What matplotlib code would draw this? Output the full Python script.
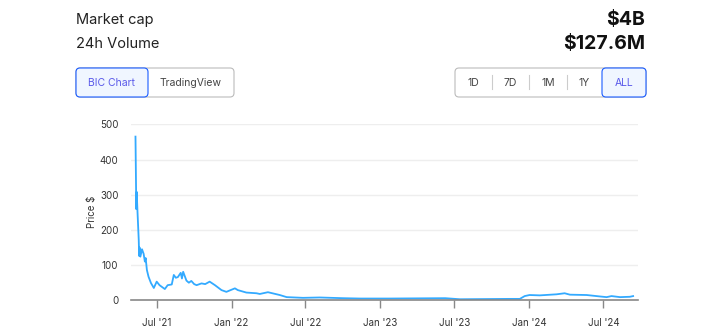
import matplotlib.pyplot as plt
import matplotlib.dates as mdates
from matplotlib.patches import FancyBboxPatch
import pandas as pd

plt.rcParams['font.family'] = ['Inter', 'DejaVu Sans']

# price history
dates = [
    "2021-05-10", "2021-05-12", "2021-05-13", "2021-05-15", "2021-05-18",
    "2021-05-19", "2021-05-20", "2021-05-22", "2021-05-26", "2021-05-30",
    "2021-06-02", "2021-06-04", "2021-06-07", "2021-06-11", "2021-06-17",
    "2021-06-24", "2021-07-01", "2021-07-08", "2021-07-21", "2021-07-28",
    "2021-08-07", "2021-08-12", "2021-08-17", "2021-08-22", "2021-08-29",
    "2021-09-01", "2021-09-04", "2021-09-12", "2021-09-18", "2021-09-24",
    "2021-10-01", "2021-10-07", "2021-10-19", "2021-10-28", "2021-11-08",
    "2021-11-21", "2021-12-07", "2021-12-19", "2022-01-09", "2022-01-16",
    "2022-02-06", "2022-03-03", "2022-03-11", "2022-03-31", "2022-04-29",
    "2022-05-16", "2022-06-25", "2022-08-05", "2022-10-01", "2022-11-12",
    "2023-01-24", "2023-06-09", "2023-07-15", "2023-11-14", "2023-12-09",
    "2023-12-21", "2024-01-02", "2024-01-27", "2024-03-08", "2024-03-28",
    "2024-04-10", "2024-05-21", "2024-06-22", "2024-07-09", "2024-07-21",
    "2024-08-11", "2024-09-04", "2024-09-12",
]
prices = [
    465, 259, 308, 250, 171,
    126, 150, 124, 145, 132,
    110, 120, 86, 67, 49,
    35, 53, 43, 32, 43,
    45, 72, 64, 66, 78,
    62, 81, 56, 50, 55,
    46, 43, 48, 46, 53,
    43, 29, 24, 34, 29,
    22, 20, 18, 23, 15,
    9, 7, 8, 6, 5,
    5, 6, 3, 4, 4,
    12, 15, 14, 17, 20,
    16, 15, 11, 9, 12,
    9, 10, 12,
]
xtick_dates = ["2021-07-01", "2022-01-01", "2022-07-01", "2023-01-01",
               "2023-07-01", "2024-01-01", "2024-07-01"]
xtick_labels = ["Jul '21", "Jan '22", "Jul '22", "Jan '23",
                "Jul '23", "Jan '24", "Jul '24"]
yticks = [0, 100, 200, 300, 400, 500]

W, H = 724, 331
fig = plt.figure(figsize=(W / 100, H / 100), dpi=100)

# page elements drawn in pixel coordinates
ov = fig.add_axes([0, 0, 1, 1])
ov.set_xlim(0, W)
ov.set_ylim(H, 0)
ov.axis("off")

ov.text(76, 20, "Market cap", fontsize=10.5, color="#222222", va="center")
ov.text(76, 44, "24h Volume", fontsize=10.5, color="#222222", va="center")
ov.text(645, 20, "$4B", fontsize=14, fontweight="bold", color="#111111",
        va="center", ha="right")
ov.text(645, 44, "$127.6M", fontsize=14, fontweight="bold", color="#111111",
        va="center", ha="right")


def box(x0, x1, y0, y1, edge, face):
    p = FancyBboxPatch((x0, y0), x1 - x0, y1 - y0,
                       boxstyle="round,pad=0,rounding_size=4",
                       linewidth=0.8, edgecolor=edge, facecolor=face)
    ov.add_patch(p)


box(76, 234, 68, 97, "#bbbbbb", "white")
box(76, 148, 68, 97, "#1a5cff", "#f0f6ff")
ov.text(112, 82.5, "BIC Chart", fontsize=7.5, color="#5b5bea",
        ha="center", va="center")
ov.text(191, 82.5, "TradingView", fontsize=7.5, color="#444444",
        ha="center", va="center")

box(455, 646, 68, 97, "#bbbbbb", "white")
box(602, 646, 68, 97, "#1a5cff", "#f0f6ff")
for xd in [492, 529, 567]:
    ov.plot([xd, xd], [75, 89], color="#cccccc", linewidth=0.8)
for xc, lab in zip([473.5, 510.5, 548, 584.5, 624],
                   ["1D", "7D", "1M", "1Y", "ALL"]):
    ov.text(xc, 82.5, lab, fontsize=7.5,
            color="#5b5bea" if lab == "ALL" else "#444444",
            ha="center", va="center")

# price chart
ax = fig.add_axes([131 / W, 1 - 300.3 / H, (638 - 131) / W, 176 / H])
x = pd.to_datetime(dates)
ax.plot(x, prices, color="#33aaff", linewidth=1.3, clip_on=False)

ax.set_xlim(pd.Timestamp("2021-04-29"), pd.Timestamp("2024-09-24"))
ax.set_ylim(0, 500)
ax.set_yticks(yticks)
ax.set_xticks(pd.to_datetime(xtick_dates))
ax.set_xticklabels(xtick_labels)
ax.grid(axis="y", color="#eeeeee", linewidth=1)
ax.set_axisbelow(True)
for s in ["top", "right", "left"]:
    ax.spines[s].set_visible(False)
ax.spines["bottom"].set_color("#888888")
ax.spines["bottom"].set_linewidth(1.2)
ax.tick_params(axis="y", length=0, pad=9, labelsize=7, labelcolor="#333333")
ax.tick_params(axis="x", length=6, width=1, color="#888888", pad=7,
               labelsize=7, labelcolor="#333333")
ax.set_ylabel("Price $", fontsize=7, color="#333333", labelpad=2)

fig.savefig("out.png", dpi=100)
